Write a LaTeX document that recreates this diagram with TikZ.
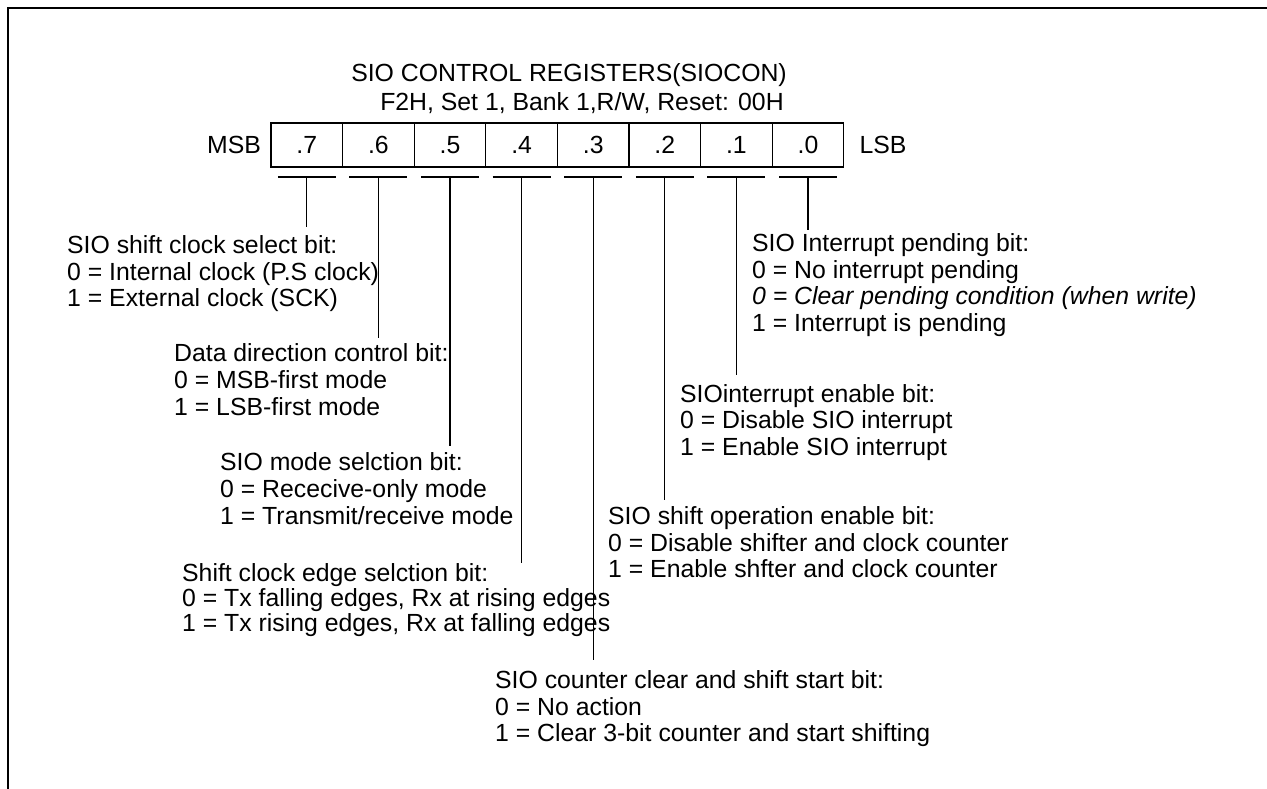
\documentclass[tikz,border=0pt]{standalone}
\usepackage{fontspec}
\setmainfont{Liberation Sans}
\usetikzlibrary{calc}
\begin{document}
\begin{tikzpicture}[x=1pt,y=-1pt,
  txt/.style={anchor=base west, inner sep=0pt, font=\fontsize{24.8}{28}\selectfont},
  ttl/.style={anchor=base, inner sep=0pt, font=\fontsize{24.8}{28}\selectfont},
  cell/.style={draw, line width=1.3pt, minimum width=71.6pt, minimum height=44pt, inner sep=0pt, font=\fontsize{24.8}{28}\selectfont},
  side/.style={inner sep=0pt, font=\fontsize{24.8}{28}\selectfont},
  conn/.style={line width=1.3pt},
  frame/.style={line width=1.7pt}]
\useasboundingbox (0,0) rectangle (1267,789);
\draw[frame] (8,789) -- (8,8) -- (1267,8);
% title
\node[ttl] (title1) at (569,81.5) {SIO CONTROL REGISTERS(SIOCON)};
\node[ttl] (title2) at (582,110.5) {F2H, Set 1, Bank 1,R/W, Reset: 00H};
% register cells
\foreach \i/\lab in {0/7,1/6,2/5,3/4,4/3,5/2,6/1,7/0}{
  \node[cell] (c\lab) at ({271+71.6*(\i+0.5)},145) {.\lab};
  \path (c\lab.center) ++(0,32) coordinate (bm\lab);
  \draw[conn] ([xshift=-29pt]bm\lab) -- ([xshift=29pt]bm\lab);
}
\node[side] (msb) at (234,145) {MSB};
\node[side] (lsb) at (883,145) {LSB};
% line ends
\coordinate (e7) at (bm7 |- 0,227);
\coordinate (e6) at (bm6 |- 0,338);
\coordinate (e5) at (bm5 |- 0,446);
\coordinate (e4) at (bm4 |- 0,563);
\coordinate (e3) at (bm3 |- 0,660);
\coordinate (e2) at (bm2 |- 0,500);
\coordinate (e1) at (bm1 |- 0,375);
\coordinate (e0) at (bm0 |- 0,230);
\foreach \lab in {7,6,5,4,3,2,1,0}{\draw[conn] (bm\lab) -- (e\lab);}
% bit 7
\node[txt] (t7a) at (67,253) {SIO shift clock select bit:};
\node[txt] (t7b) at (67,280) {0 = Internal clock (P.S clock)};
\node[txt] (t7c) at (67,306) {1 = External clock (SCK)};
% bit 6
\node[txt] (t6a) at (174,361) {Data direction control bit:};
\node[txt] (t6b) at (174,388) {0 = MSB-first mode};
\node[txt] (t6c) at (174,415) {1 = LSB-first mode};
% bit 5
\node[txt] (t5a) at (220,470) {SIO mode selction bit:};
\node[txt] (t5b) at (220,497) {0 = Rececive-only mode};
\node[txt] (t5c) at (220,524) {1 = Transmit/receive mode};
% bit 4
\node[txt] (t4a) at (182,581) {Shift clock edge selction bit:};
\node[txt] (t4b) at (182,606) {0 = Tx falling edges, Rx at rising edges};
\node[txt] (t4c) at (182,631) {1 = Tx rising edges, Rx at falling edges};
% bit 3
\node[txt] (t3a) at (495,688) {SIO counter clear and shift start bit:};
\node[txt] (t3b) at (495,715) {0 = No action};
\node[txt] (t3c) at (495,741) {1 = Clear 3-bit counter and start shifting};
% bit 0
\node[txt] (t0a) at (752,251) {SIO Interrupt pending bit:};
\node[txt] (t0b) at (752,278) {0 = No interrupt pending};
\node[txt] (t0c) at (752,304) {\itshape 0 = Clear pending condition (when write)};
\node[txt] (t0d) at (752,331) {1 = Interrupt is pending};
% bit 1
\node[txt] (t1a) at (680,402) {SIOinterrupt enable bit:};
\node[txt] (t1b) at (680,428) {0 = Disable SIO interrupt};
\node[txt] (t1c) at (680,455) {1 = Enable SIO interrupt};
% bit 2
\node[txt] (t2a) at (608,524) {SIO shift operation enable bit:};
\node[txt] (t2b) at (608,551) {0 = Disable shifter and clock counter};
\node[txt] (t2c) at (608,577) {1 = Enable shfter and clock counter};
\end{tikzpicture}
\end{document}
